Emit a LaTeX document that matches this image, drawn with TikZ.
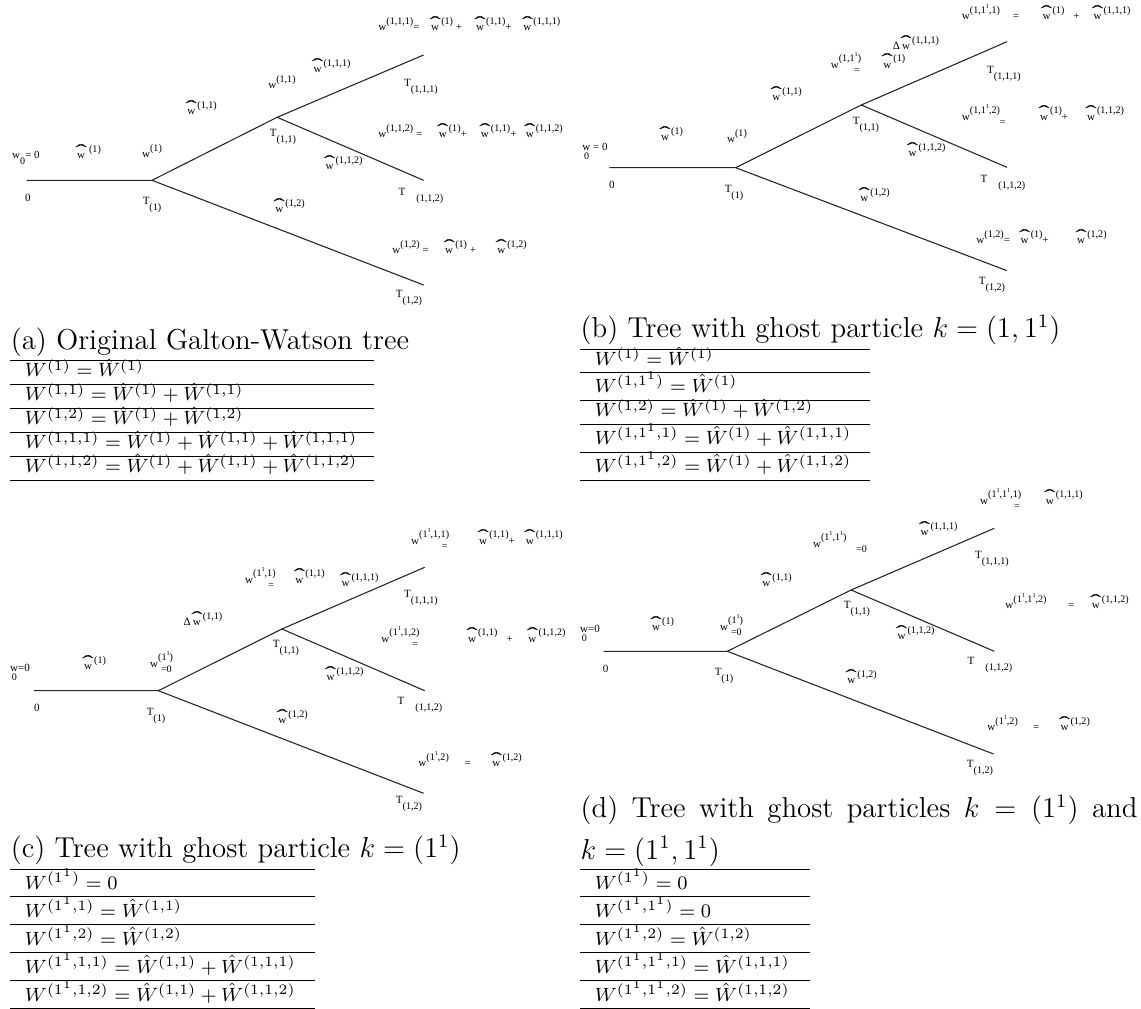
\documentclass[tikz,border=0pt]{standalone}
\usepackage{fontspec}
\usepackage{tikz}
\newfontfamily\figfont{Liberation Serif}

\newcommand{\hi}[1]{\raisebox{0.6em}{\fontsize{4.2}{4.5}\selectfont #1}}
\newcommand{\lo}[1]{\raisebox{-0.5em}{\fontsize{4.2}{4.5}\selectfont #1}}
\newcommand{\belw}[1]{\rlap{\raisebox{-0.8em}{\fontsize{4.2}{4.5}\selectfont\,#1}}}
\newcommand{\gs}{\raisebox{0.5em}{\fontsize{2.6}{3}\selectfont 1}}
\newcommand{\hw}{\ooalign{\makebox[1.1em]{w}\cr\hidewidth\raisebox{0.05em}{\scalebox{3.2}[1.8]{ˆ}}\hidewidth\cr}}

\begin{document}
\begin{tikzpicture}[x=0.41667pt, y=-0.41667pt,
  lbl/.style={font={\figfont\fontsize{4.6}{5}\selectfont}, inner sep=0pt},
  eqn/.style={lbl, anchor=west},
  branch/.style={line width=0.45pt, black!85},
  captxt/.style={font={\fontsize{12}{14.5}\selectfont}, inner sep=0pt, anchor=base west},
  entry/.style={font={\fontsize{8}{9.5}\selectfont}, inner sep=0pt, anchor=base west},
  rulel/.style={line width=0.4pt}]
\useasboundingbox (0,0) rectangle (1141,1009);

%% tree (a)
\coordinate(a0) at (26.5,180.3);
\coordinate(a1) at (152,180.3);
\coordinate(a11) at (277.1,117.3);
\coordinate(a111) at (423.6,55);
\coordinate(a112) at (423.6,180.3);
\coordinate(a12) at (423.6,285);
\draw[branch] (a0) -- (a1) -- (a11) -- (a111);
\draw[branch] (a11) -- (a112);
\draw[branch] (a1) -- (a12);

\node(aw0)[lbl] at (26,158) {w\lo{0}= 0};
\node(ahw1)[lbl] at (88,152) {\hw\,\hi{(1)}};
\node(aw1)[lbl] at (152,151) {w\hi{(1)}};
\node(azero)[lbl] at (28,198) {0};
\node(aT1)[lbl] at (152,205) {T\lo{(1)}};
\node(ahw11)[lbl] at (201,108) {\hw\hi{(1,1)}};
\node(aw11)[lbl] at (282,82) {w\hi{(1,1)}};
\node(ahw111)[lbl] at (331,66) {\hw\hi{(1,1,1)}};
\node(aT11)[lbl] at (283,137) {T\lo{(1,1)}};
\node(ahw112)[lbl] at (343,163) {\hw\hi{(1,1,2)}};
\node(aT111)[lbl] at (421,87) {T\lo{(1,1,1)}};
\node(aT112)[lbl] at (421,196) {T\quad\lo{(1,1,2)}};
\node(ahw12)[lbl] at (289,206) {\hw\hi{(1,2)}};
\node(aT12)[lbl] at (409,298) {T\lo{(1,2)}};
\node(aeq111)[eqn] at (378,24) {w\hi{(1,1,1)}=\hspace{4pt}\hw\hi{(1)} +\hspace{5pt}\hw\hi{(1,1)}+\hspace{4pt}\hw\hi{(1,1,1)}};
\node(aeq112)[eqn] at (378,131) {w\hi{(1,1,2)} =\hspace{6pt}\hw\hi{(1)}+\hspace{5pt}\hw\hi{(1,1)}+\hspace{3pt}\hw\hi{(1,1,2)}};
\node(aeq12)[eqn] at (392,247) {w\hi{(1,2)} =\hspace{6pt}\hw\hi{(1)} +\hspace{8pt}\hw\hi{(1,2)}};

%% tree (b)
\coordinate(b0) at (609.3,167.7);
\coordinate(b1) at (735.7,167.7);
\coordinate(b11) at (861.3,105);
\coordinate(b111) at (1007,41.7);
\coordinate(b112) at (1007,167.3);
\coordinate(b12) at (1007,270.7);
\draw[branch] (b0) -- (b1) -- (b11) -- (b111);
\draw[branch] (b11) -- (b112);
\draw[branch] (b1) -- (b12);

\node(bw0)[lbl] at (595,151) {\belw{0}w = 0};
\node(bhw1)[lbl] at (671,134) {\hw\hi{(1)}};
\node(bw1)[lbl] at (737,136) {w\hi{(1)}};
\node(bzero)[lbl] at (612,185) {0};
\node(bT1)[lbl] at (734,193) {T\lo{(1)}};
\node(bhw11)[lbl] at (786,94) {\hw\hi{(1,1)}};
\node(bw11g)[lbl] at (868,63) {w\hi{(1,1\gs)}\hspace{-3pt}\lo{=}\hspace{9pt}\hw\hi{(1)}};
\node(bdhw111)[lbl] at (916,43) {Δ\hw\hi{(1,1,1)}};
\node(bT11)[lbl] at (866,125) {T\lo{(1,1)}};
\node(bhw112)[lbl] at (926,150) {\hw\hi{(1,1,2)}};
\node(bT111)[lbl] at (1004,74) {T\lo{(1,1,1)}};
\node(bT112)[lbl] at (1003,183) {T\quad\lo{(1,1,2)}};
\node(bhw12)[lbl] at (874,195) {\hw\hi{(1,2)}};
\node(bT12)[lbl] at (992,285) {T\lo{(1,2)}};
\node(beq111)[eqn] at (961.5,12) {w\hi{(1,1\gs,1)}\hspace{5.4pt}=\hspace{8.9pt}\hw\hi{(1)}\hspace{3.7pt}+\hspace{5pt}\hw\hi{(1,1,1)}};
\node(beq112)[eqn] at (961.5,115) {w\hi{(1,1\gs,2)}\lo{=}\hspace{13.5pt}\hw\hi{(1)}+\hspace{7pt}\hw\hi{(1,1,2)}};
\node(beq12)[eqn] at (976,237) {w\hi{(1,2)}=\hspace{3.6pt}\hw\hi{(1)}+\hspace{11pt}\hw\hi{(1,2)}};

%% tree (c)
\coordinate(c0) at (34,690.7);
\coordinate(c1) at (158.3,690.7);
\coordinate(c11) at (281.9,629);
\coordinate(c111) at (424.7,567.3);
\coordinate(c112) at (424.7,690.7);
\coordinate(c12) at (423.6,793.3);
\draw[branch] (c0) -- (c1) -- (c11) -- (c111);
\draw[branch] (c11) -- (c112);
\draw[branch] (c1) -- (c12);

\node(cw0)[lbl] at (20,672) {\belw{0}w=0};
\node(chw1)[lbl] at (94,663) {\hw\hi{(1)}};
\node(cw1g)[lbl] at (161,662) {w\hi{(1\gs)}\hspace{-5pt}\lo{=0}};
\node(czero)[lbl] at (37,708) {0};
\node(cT1)[lbl] at (156,716) {T\lo{(1)}};
\node(cdhw11)[lbl] at (203,619) {Δ\hw\hi{(1,1)}};
\node(cw1g1)[lbl] at (285,578) {w\hi{(1\gs,1)}\hspace{-3pt}\lo{=}\hspace{8pt}\hw\hi{(1,1)}};
\node(chw111)[lbl] at (359,580) {\hw\hi{(1,1,1)}};
\node(cT11)[lbl] at (286,648) {T\lo{(1,1)}};
\node(chw112)[lbl] at (344,674) {\hw\hi{(1,1,2)}};
\node(cT111)[lbl] at (421,598) {T\lo{(1,1,1)}};
\node(cT112)[lbl] at (420,705) {T\quad\lo{(1,1,2)}};
\node(chw12)[lbl] at (292,717) {\hw\hi{(1,2)}};
\node(cT12)[lbl] at (409,804) {T\lo{(1,2)}};
\node(ceq111)[eqn] at (410.7,539) {w\hi{(1\gs,1,1)}\hspace{-3pt}\lo{=}\hspace{12.3pt}\hw\hi{(1,1)}+\hspace{3.7pt}\hw\hi{(1,1,1)}};
\node(ceq112)[eqn] at (381,637) {w\hi{(1\gs,1,2)}\hspace{-3pt}\lo{=}\hspace{20pt}\hw\hi{(1,1)}\hspace{3.9pt}+\hspace{5.6pt}\hw\hi{(1,1,2)}};
\node(ceq12)[eqn] at (418,759) {w\hi{(1\gs,2)}\hspace{6.6pt}=\hspace{8.1pt}\hw\hi{(1,2)}};

%% tree (d)
\coordinate(d0) at (603.5,651.3);
\coordinate(d1) at (727.3,651.3);
\coordinate(d11) at (851.1,590);
\coordinate(d111) at (994.3,528.3);
\coordinate(d112) at (994.3,651.3);
\coordinate(d12) at (993.5,754);
\draw[branch] (d0) -- (d1) -- (d11) -- (d111);
\draw[branch] (d11) -- (d112);
\draw[branch] (d1) -- (d12);

\node(dw0)[lbl] at (590,633) {\belw{0}w=0};
\node(dhw1)[lbl] at (662,624) {\hw\hi{(1)}};
\node(dw1g)[lbl] at (731,625) {w\hi{(1\gs)}\hspace{-5pt}\lo{=0}};
\node(dzero)[lbl] at (605.7,669) {0};
\node(dT1)[lbl] at (724,676) {T\lo{(1)}};
\node(dhw11)[lbl] at (776,580) {\hw\hi{(1,1)}};
\node(dw1g1g)[lbl] at (840,542) {w\hi{(1\gs,1\gs)}\hspace{4pt}\lo{=0}};
\node(dhw111)[lbl] at (938,529) {\hw\hi{(1,1,1)}};
\node(dT11)[lbl] at (857,609) {T\lo{(1,1)}};
\node(dhw112)[lbl] at (915,633) {\hw\hi{(1,1,2)}};
\node(dT111)[lbl] at (992,559) {T\lo{(1,1,1)}};
\node(dT112)[lbl] at (990,665) {T\quad\lo{(1,1,2)}};
\node(dhw12)[lbl] at (861,677) {\hw\hi{(1,2)}};
\node(dT12)[lbl] at (980,768) {T\lo{(1,2)}};
\node(deq111)[eqn] at (979.7,499) {w\hi{(1\gs,1\gs,1)}\hspace{-3pt}\lo{=}\hspace{10pt}\hw\hi{(1,1,1)}};
\node(deq112)[eqn] at (1005,601) {w\hi{(1\gs,1\gs,2)}\hspace{9pt}=\hspace{6.4pt}\hw\hi{(1,1,2)}};
\node(deq12)[eqn] at (987,723) {w\hi{(1\gs,2)}\hspace{6.3pt}=\hspace{8pt}\hw\hi{(1,2)}};

%% captions
\node(capa)[captxt] at (10.4,349.5) {(a) Original Galton-Watson tree};
\node(capb)[captxt] at (580.2,337.8) {(b) Tree with ghost particle $k = (1, 1^1)$};
\node(capc)[captxt] at (10.4,857.8) {(c) Tree with ghost particle $k = (1^1)$};
\node(capd)[captxt, font={\fontsize{12}{17.3}\selectfont}, text width=232pt, align=justify] at (580.2,817.5)
  {(d) Tree with ghost particles $k = (1^1)$ and \mbox{$k = (1^1, 1^1)$}};

%% tables
\foreach \y in {360.7,384.3,408.3,432.3,456,480} \draw[rulel] (10.4,\y) -- (374.4,\y);
\node(ta1)[entry] at (24.5,377) {$W^{(1)} = \hat{W}^{(1)}$};
\node(ta2)[entry] at (24.5,401) {$W^{(1,1)} = \hat{W}^{(1)} + \hat{W}^{(1,1)}$};
\node(ta3)[entry] at (24.5,425) {$W^{(1,2)} = \hat{W}^{(1)} + \hat{W}^{(1,2)}$};
\node(ta4)[entry] at (24.5,449) {$W^{(1,1,1)} = \hat{W}^{(1)} + \hat{W}^{(1,1)} + \hat{W}^{(1,1,1)}$};
\node(ta5)[entry] at (24.5,472.7) {$W^{(1,1,2)} = \hat{W}^{(1)} + \hat{W}^{(1,1)} + \hat{W}^{(1,1,2)}$};

\foreach \y in {349,372.7,400,424.3,452,480} \draw[rulel] (580.2,\y) -- (869.7,\y);
\node(tb1)[entry] at (594.3,365.4) {$W^{(1)} = \hat{W}^{(1)}$};
\node(tb2)[entry] at (594.3,392.7) {$W^{(1,1^1)} = \hat{W}^{(1)}$};
\node(tb3)[entry] at (594.3,417) {$W^{(1,2)} = \hat{W}^{(1)} + \hat{W}^{(1,2)}$};
\node(tb4)[entry] at (594.3,444.7) {$W^{(1,1^1,1)} = \hat{W}^{(1)} + \hat{W}^{(1,1,1)}$};
\node(tb5)[entry] at (594.3,472.7) {$W^{(1,1^1,2)} = \hat{W}^{(1)} + \hat{W}^{(1,1,2)}$};

\foreach \y in {869,896.7,924.7,952.7,980.7,1008.3} \draw[rulel] (10.4,\y) -- (315.2,\y);
\node(tc1)[entry] at (24.5,889.4) {$W^{(1^1)} = 0$};
\node(tc2)[entry] at (24.5,917.4) {$W^{(1^1,1)} = \hat{W}^{(1,1)}$};
\node(tc3)[entry] at (24.5,945.4) {$W^{(1^1,2)} = \hat{W}^{(1,2)}$};
\node(tc4)[entry] at (24.5,973.4) {$W^{(1^1,1,1)} = \hat{W}^{(1,1)} + \hat{W}^{(1,1,1)}$};
\node(tc5)[entry] at (24.5,1001) {$W^{(1^1,1,2)} = \hat{W}^{(1,1)} + \hat{W}^{(1,1,2)}$};

\foreach \y in {869,896.7,924.7,952.7,980.7,1008.3} \draw[rulel] (580.2,\y) -- (810.3,\y);
\node(td1)[entry] at (594.3,889.4) {$W^{(1^1)} = 0$};
\node(td2)[entry] at (594.3,917.4) {$W^{(1^1,1^1)} = 0$};
\node(td3)[entry] at (594.3,945.4) {$W^{(1^1,2)} = \hat{W}^{(1,2)}$};
\node(td4)[entry] at (594.3,973.4) {$W^{(1^1,1^1,1)} = \hat{W}^{(1,1,1)}$};
\node(td5)[entry] at (594.3,1001) {$W^{(1^1,1^1,2)} = \hat{W}^{(1,1,2)}$};
\end{tikzpicture}
\end{document}
